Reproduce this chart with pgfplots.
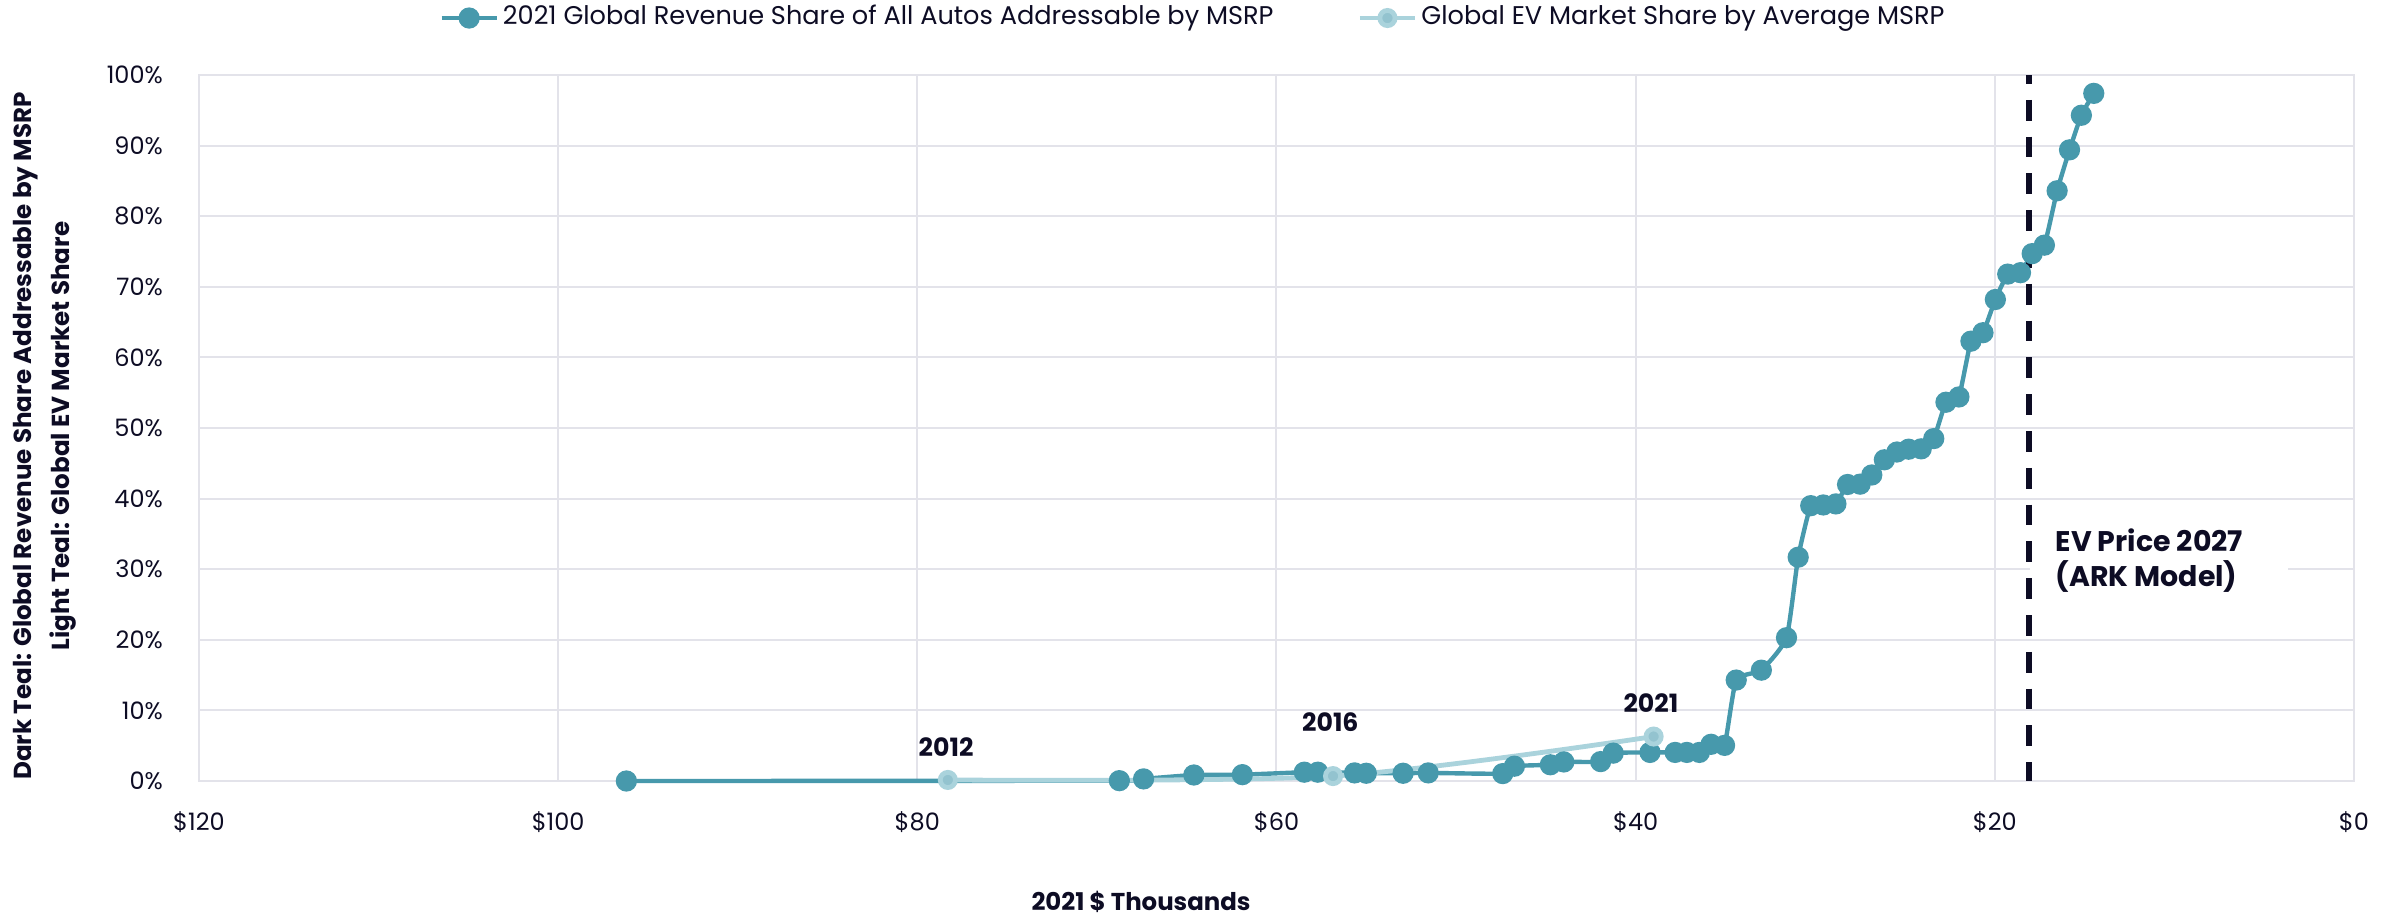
\documentclass[border=0pt]{standalone}
\usepackage{pgfplots}
\pgfplotsset{compat=1.18}
\usepackage{fontspec}
\setmainfont{Poppins}
\definecolor{darkteal}{HTML}{4799AC}
\definecolor{lightteal}{HTML}{AAD3DC}
\definecolor{lightmark}{HTML}{93C3CF}
\definecolor{navy}{HTML}{0D0C24}
\definecolor{gridc}{HTML}{E3E3EA}
\begin{document}
\begin{tikzpicture}
\path[use as bounding box] (-49.75pt,-33pt) rectangle (549.5pt,195.25pt);
\begin{axis}[
 at={(0,0)}, anchor=south west,
 scale only axis, width=538.75pt, height=176.5pt,
 x dir=reverse, xmin=0, xmax=120, ymin=0, ymax=100,
 xtick={0,20,...,120}, ytick={0,10,...,100},
 xticklabel={\$\pgfmathprintnumber{\tick}},
 yticklabel={\pgfmathprintnumber{\tick}\%},
 /pgf/number format/assume math mode=true,
 ticklabel style={font=\fontsize{6}{7}\selectfont, text=navy},
 xticklabel style={yshift=-4pt},
 yticklabel style={xshift=-5.5pt},
 major tick length=0pt,
 grid=major, grid style={gridc, line width=0.5pt},
 axis line style={gridc, line width=0.6pt},
 legend style={at={(0.4617,1.0807)}, anchor=center, draw=none, fill=none,
   font=\fontsize{6.4}{7}\selectfont, text=navy, legend columns=2,
   nodes={inner xsep=1pt},
   /tikz/every even column/.append style={column sep=20pt}},
 legend cell align=left,
 legend image code/.code={\draw[#1, mark repeat=2, mark phase=2] plot coordinates {(0pt,0pt)(6.9pt,0pt)(13.8pt,0pt)};},
 clip=false,
]
\addplot[darkteal, line width=1.1pt, mark=*, mark size=2.1pt, mark options={fill=darkteal, draw=darkteal, solid}, smooth, tension=0.3] table {
x y
96.2 0.0
68.75 0.05
67.4 0.3
64.6 0.85
61.9 0.9
58.45 1.25
57.7 1.25
55.65 1.15
55.0 1.1
52.95 1.1
51.55 1.15
47.4 1.05
46.75 2.1
44.75 2.3
44.0 2.7
41.95 2.75
41.25 3.95
39.2 4.05
37.8 4.05
37.15 4.05
36.45 4.05
35.8 5.2
35.05 5.05
34.4 14.3
33.0 15.7
31.6 20.3
30.95 31.7
30.25 39.0
29.55 39.1
28.85 39.25
28.2 42.0
27.5 42.05
26.85 43.35
26.15 45.5
25.45 46.6
24.8 47.0
24.1 47.05
23.4 48.5
22.72 53.65
22.0 54.4
21.33 62.3
20.66 63.5
19.97 68.2
19.28 71.8
18.57 72.0
17.92 74.7
17.24 75.9
16.53 83.6
15.84 89.4
15.18 94.3
14.49 97.4
};
\addlegendentry{2021 Global Revenue Share of All Autos Addressable by MSRP}
\addplot[lightteal, line width=1.2pt, mark=*, mark size=1.9pt, mark options={fill=lightmark, draw=lightteal, solid}, smooth] table {
x y
78.3 0.15
56.85 0.7
39.0 6.3
};
\addlegendentry{Global EV Market Share by Average MSRP}
\fill[white] (axis cs:18.05,28.2) rectangle (axis cs:3.7,32);
\draw[navy, line width=1.3pt, dash pattern=on 5.2pt off 4pt, dash phase=3pt] (axis cs:18.1,100) -- (axis cs:18.1,0);
\node[font=\bfseries\fontsize{6.3}{7}\selectfont, text=navy] at (axis cs:78.4,4.8) {2012};
\node[font=\bfseries\fontsize{6.3}{7}\selectfont, text=navy] at (axis cs:57.0,8.4) {2016};
\node[font=\bfseries\fontsize{6.3}{7}\selectfont, text=navy] at (axis cs:39.15,11.0) {2021};
\node[font=\bfseries\fontsize{7.1}{8.75}\selectfont, text=navy, align=left, inner sep=0pt, anchor=west] at (axis cs:16.65,31.2) {EV Price 2027\\(ARK Model)};
\end{axis}
\node[rotate=90, align=center, font=\bfseries\fontsize{6.15}{9.5}\selectfont, text=navy] at (-38.5pt,86.25pt) {Dark Teal: Global Revenue Share Addressable by MSRP\\Light Teal: Global EV Market Share};
\node[font=\bfseries\fontsize{6.1}{6.5}\selectfont, text=navy] at (235.5pt,-30.2pt) {2021 \$ Thousands};
\end{tikzpicture}
\end{document}
